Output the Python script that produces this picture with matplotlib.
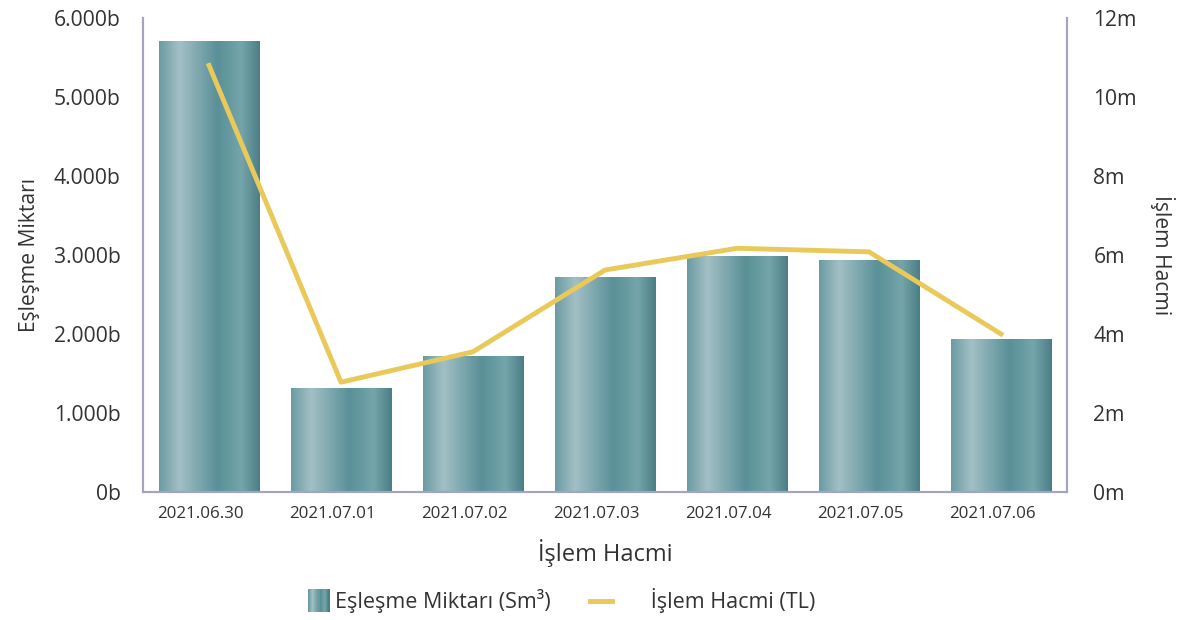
import numpy as np
import matplotlib.pyplot as plt
import matplotlib.transforms as mtransforms
from matplotlib.colors import LinearSegmentedColormap
from matplotlib.patches import Rectangle
from matplotlib.lines import Line2D
from matplotlib.legend_handler import HandlerBase

plt.rcParams['font.family'] = ['Open Sans', 'DejaVu Sans']

dates = ['2021.06.30', '2021.07.01', '2021.07.02', '2021.07.03',
         '2021.07.04', '2021.07.05', '2021.07.06']
eslesme = [5700, 1315, 1720, 2710, 2985, 2935, 1925]   # milyon Sm3 (b = bin)
hacim = [10.8, 2.78, 3.55, 5.62, 6.17, 6.08, 4.0]     # milyon TL

left_ticks = [0, 1000, 2000, 3000, 4000, 5000, 6000]
left_labels = ['0b', '1.000b', '2.000b', '3.000b', '4.000b', '5.000b', '6.000b']
right_ticks = [0, 2, 4, 6, 8, 10, 12]
right_labels = ['0m', '2m', '4m', '6m', '8m', '10m', '12m']

grad = LinearSegmentedColormap.from_list('bar', [
    (0.0, '#6b9ba2'), (0.2, '#a2c0c5'), (0.58, '#5a9098'),
    (0.82, '#74a5aa'), (1.0, '#4c7e86')])
line_color = '#e8c95a'
spine_color = '#a3a3c2'
text_color = '#333333'

fig = plt.figure(figsize=(11.77, 6.2), dpi=100)
ax1 = fig.add_axes([143/1177, 1 - 492/620, 924/1177, 474/620])
ax2 = ax1.twinx()

x = np.arange(len(dates))
width = 0.765
g = np.linspace(0, 1, 256).reshape(1, -1)
for xi, v in zip(x, eslesme):
    ax1.imshow(g, cmap=grad, aspect='auto', zorder=2,
               extent=[xi - width/2, xi + width/2, 0, v])
ax1.set_xlim(-0.5, len(dates) - 0.5)
ax1.set_ylim(0, 6000)

ax2.plot(x, hacim, color=line_color, lw=3.5, zorder=3)
ax2.set_ylim(0, 12)

ax1.set_xticks(x)
ax1.set_xticklabels(dates, fontsize=12.2, color=text_color)
ax1.set_yticks(left_ticks)
ax1.set_yticklabels(left_labels, fontsize=15.2, color=text_color)
ax2.set_yticks(right_ticks)
ax2.set_yticklabels(right_labels, fontsize=15.2, color=text_color)
ax1.tick_params(axis='y', length=0, pad=16)
ax1.tick_params(axis='x', length=0, pad=10)
ax2.tick_params(length=0, pad=19)

# date labels sit a little left of the bar centres in the original
shift = mtransforms.ScaledTranslation(-9/100, 0, fig.dpi_scale_trans)
for lab in ax1.get_xticklabels():
    lab.set_transform(lab.get_transform() + shift)

for ax in (ax1, ax2):
    ax.spines['top'].set_visible(False)
    for s in ('left', 'right', 'bottom'):
        ax.spines[s].set_color(spine_color)
        ax.spines[s].set_linewidth(1.5)

ax1.set_ylabel('Eşleşme Miktarı', fontsize=15.2, color=text_color, labelpad=10)
ax2.set_ylabel('İşlem Hacmi', fontsize=15.2, color=text_color, rotation=270,
               labelpad=27)
ax1.set_xlabel('İşlem Hacmi', fontsize=17, color=text_color, labelpad=12)


class GradHandler(HandlerBase):
    def create_artists(self, legend, orig, xd, yd, w, h, fontsize, trans):
        n = 20
        arts = []
        for i in range(n):
            r = Rectangle((xd + w * i / n, yd - 3), w / n + 0.3, h + 6,
                          facecolor=grad(i / (n - 1)), edgecolor='none',
                          transform=trans)
            arts.append(r)
        return arts


bar_handle = Rectangle((0, 0), 1, 1)
line_handle = Line2D([], [], color=line_color, lw=3.5)
fig.legend([bar_handle, line_handle],
           ['Eşleşme Miktarı (Sm³)', '      İşlem Hacmi (TL)'],
           handler_map={bar_handle: GradHandler()},
           loc='center', bbox_to_anchor=(0.4771, 0.031), ncol=2, frameon=False,
           fontsize=15.5, handlelength=1.0, handletextpad=0.25,
           columnspacing=1.85, labelcolor=text_color)

fig.savefig('out.png', dpi=100)
